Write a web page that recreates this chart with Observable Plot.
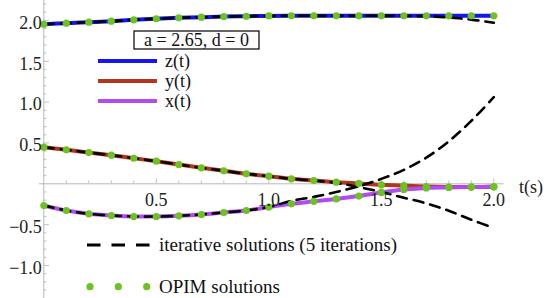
<!DOCTYPE html>
<html><head><meta charset="utf-8">
<script src="https://cdn.jsdelivr.net/npm/d3@7"></script>
<script src="https://cdn.jsdelivr.net/npm/@observablehq/plot@0.6"></script>
<style>html,body{margin:0;padding:0;background:#fff;} svg{display:block}</style>
</head><body><div id="chart"></div>
<script>
// time grid (s)
const t = [0,0.1,0.2,0.3,0.4,0.5,0.6,0.7,0.8,0.9,1.0,1.1,1.2,1.3,1.4,1.5,1.6,1.7,1.8,1.9,2.0];
// OPIM solutions / exact curves
const zSol = [1.953,1.966,1.978,1.990,2.007,2.020,2.032,2.039,2.048,2.051,2.055,2.056,2.056,2.056,2.056,2.056,2.056,2.056,2.056,2.056,2.056];
const ySol = [0.448,0.416,0.383,0.350,0.313,0.277,0.236,0.196,0.159,0.122,0.093,0.061,0.040,0.020,0.004,-0.012,-0.021,-0.033,-0.039,-0.039,-0.037];
const xSol = [-0.266,-0.327,-0.367,-0.388,-0.400,-0.400,-0.392,-0.376,-0.351,-0.327,-0.284,-0.245,-0.215,-0.185,-0.150,-0.105,-0.070,-0.050,-0.045,-0.040,-0.037];
// iterative solutions (5 iterations)
const zIter = [1.953,1.966,1.978,1.990,2.007,2.020,2.032,2.039,2.048,2.051,2.055,2.056,2.056,2.056,2.056,2.056,2.055,2.050,2.035,2.010,1.972];
const yIter = [0.448,0.416,0.383,0.350,0.313,0.277,0.236,0.196,0.159,0.122,0.093,0.061,0.040,0.010,-0.040,-0.100,-0.170,-0.240,-0.330,-0.440,-0.540];
const xIter = [-0.266,-0.327,-0.367,-0.388,-0.400,-0.400,-0.392,-0.376,-0.351,-0.327,-0.284,-0.210,-0.160,-0.100,-0.030,0.060,0.170,0.320,0.520,0.770,1.060];

const seriesNames = ["z(t)","y(t)","x(t)"];
const seriesColors = ["#1515ee","#b3361c","#b04cf0"];
const xTicks = [0.5,1.0,1.5,2.0];
const yTicks = [2.0,1.5,1.0,0.5,-0.5,-1.0];
const boxLabel = "a = 2.65, d = 0";
const iterLabel = "iterative solutions (5 iterations)";
const opimLabel = "OPIM solutions";
const xAxisLabel = "t(s)";

const sol = [zSol, ySol, xSol];
const iter = [zIter, yIter, xIter];
const solRows = [], iterRows = [];
seriesNames.forEach((s, k) => {
  t.forEach((ti, i) => {
    solRows.push({t: ti, v: sol[k][i], series: s});
    iterRows.push({t: ti, v: iter[k][i], series: s});
  });
});

const fmt = d => (d < 0 ? "\u2212" : "") + Math.abs(d).toFixed(1);
const FONT = "Liberation Serif, Times New Roman, serif";
const minorX = d3.range(1, 21).map(i => i / 10);
const minorY = d3.range(-13, 23).filter(i => i !== 0).map(i => i / 10);

const W = 550, H = 298;
const plot = Plot.plot({
  width: W, height: H,
  marginTop: 0, marginRight: 0, marginBottom: 0, marginLeft: 0,
  x: {type: "linear", domain: [-43.3/225, 506.7/225], axis: null},
  y: {type: "linear", domain: [-114.7/81.7, 183.3/81.7], axis: null},
  style: {fontFamily: FONT, fontSize: "18px", background: "#fff", overflow: "visible"},
  marks: [
    Plot.ruleY([0], {x1: -0.02, x2: 2.045, stroke: "#b8b8b8", strokeWidth: 1}),
    Plot.ruleX([0], {stroke: "#b8b8b8", strokeWidth: 1}),
    Plot.ruleX(minorX, {x: d => d, y1: 0, y2: d => (Math.round(d*10) % 5 === 0 ? 0.06 : 0.035), stroke: "#c0c0c0", strokeWidth: 1}),
    Plot.ruleY(minorY, {y: d => d, x1: 0, x2: d => (Math.round(Math.abs(d)*10) % 5 === 0 ? 0.025 : 0.014), stroke: "#c0c0c0", strokeWidth: 1}),
    Plot.line(solRows, {x: "t", y: "v", z: "series", stroke: d => seriesColors[seriesNames.indexOf(d.series)], strokeWidth: 4, curve: "catmull-rom"}),
    Plot.line(iterRows, {x: "t", y: "v", z: "series", stroke: "#000", strokeWidth: 2.6, strokeDasharray: "10,7", curve: "catmull-rom"}),
    Plot.dot(solRows, {x: "t", y: "v", r: 3.6, fill: "#6cc21e", stroke: "none"}),
    Plot.text(xTicks, {x: d => d, y: 0, text: fmt, dy: 16.7, fontSize: 18, fill: "#222", fontFamily: FONT}),
    Plot.text(yTicks, {x: 0, y: d => d, text: fmt, dx: -2, dy: 2.5, textAnchor: "end", fontSize: 18, fill: "#222", fontFamily: FONT}),
    Plot.text([xAxisLabel], {x: 2.165, y: 0, text: d => d, dy: 3, fontSize: 18, fill: "#222", fontFamily: FONT})
  ]
});

// legends (pixel layout)
const svg = d3.select(plot);
const lg = svg.append("g").attr("font-family", FONT).attr("font-size", 18).attr("fill", "#111").attr("text-anchor", "start");
lg.append("rect").attr("x", 134).attr("y", 31).attr("width", 125).attr("height", 18)
  .attr("fill", "#fff").attr("stroke", "#000").attr("stroke-width", 1.2);
lg.append("text").attr("x", 196.5).attr("y", 46).attr("text-anchor", "middle").text(boxLabel);
seriesNames.forEach((s, i) => {
  const yy = 61 + i * 20;
  lg.append("line").attr("x1", 98).attr("x2", 157).attr("y1", yy).attr("y2", yy)
    .attr("stroke", seriesColors[i]).attr("stroke-width", 4);
  lg.append("text").attr("x", 165).attr("y", yy + 6).text(s);
});
lg.append("line").attr("x1", 87).attr("x2", 150).attr("y1", 245).attr("y2", 245)
  .attr("stroke", "#000").attr("stroke-width", 3).attr("stroke-dasharray", "13.5,11");
lg.append("text").attr("x", 159).attr("y", 251).attr("font-size", 19).text(iterLabel);
[90, 118.3, 146.7].forEach(cx => lg.append("circle").attr("cx", cx).attr("cy", 286.7).attr("r", 3.6).attr("fill", "#6cc21e"));
lg.append("text").attr("x", 159).attr("y", 293).attr("font-size", 19).text(opimLabel);

document.getElementById("chart").appendChild(plot);
</script>
</body></html>
